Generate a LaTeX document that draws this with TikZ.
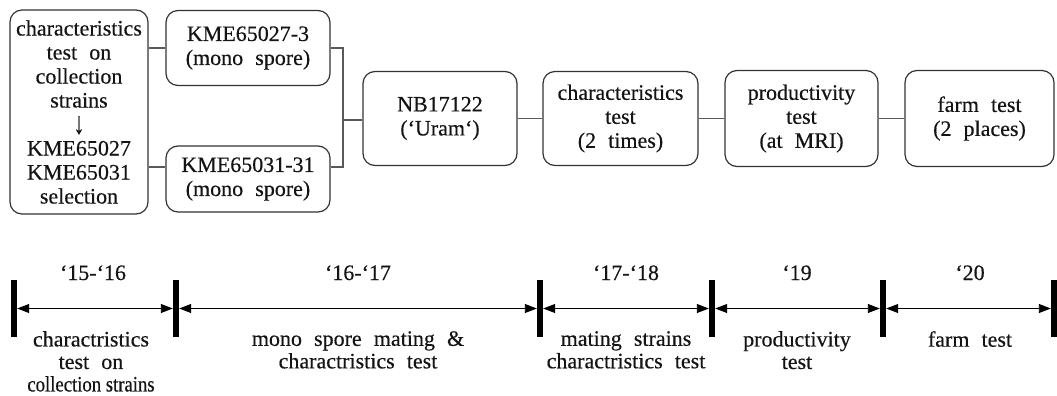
\documentclass[tikz,border=0pt]{standalone}
\usepackage{fontspec}
\setmainfont{Liberation Serif}[FakeBold=0.4,BoldFont=*]
\usepackage{graphicx}
\usetikzlibrary{arrows.meta}
\newcommand\myboxfont{\fontsize{22}{24}\selectfont\bfseries\spaceskip=0.55em plus 0.1em\relax}
\newcommand\mylabelfont{\fontsize{22}{22.5}\selectfont\bfseries\spaceskip=0.55em plus 0.1em\relax}
\newcommand\mycondensed[1]{{\spaceskip=0pt\relax\scalebox{0.85}[1]{#1}}}
\newcommand\mydownarrow{\raisebox{-2pt}[12pt][4pt]{\scalebox{1}[1.4]{↓}}}
\begin{document}
\begin{tikzpicture}[x=1pt,y=-1pt,
  txt/.style={font=\myboxfont, text=black!92, align=center, inner sep=0pt},
  lbl/.style={txt, font=\mylabelfont},
  box/.style={txt, draw=black!80, line width=1.2pt, rounded corners=12pt},
  link/.style={draw=black!65, line width=1.5pt},
  bar/.style={fill=black, minimum width=6pt, minimum height=57pt, inner sep=0pt},
  span/.style={line width=0.9pt, {Triangle[length=12pt,width=9pt]}-{Triangle[length=12pt,width=9pt]}},
]
\useasboundingbox (0,0) rectangle (1057,396);
% boxes
\node[box, minimum width=138pt, minimum height=204pt] (b1) at (79,112)
  {characteristics\\test on\\collection\\strains\\\mydownarrow\\KME65027\\KME65031\\selection};
\node[box, minimum width=164pt, minimum height=75pt] (b2) at (248,48)
  {KME65027-3\\(mono spore)};
\node[box, minimum width=164pt, minimum height=66pt] (b3) at (248,179)
  {KME65031-31\\(mono spore)};
\node[box, minimum width=154pt, minimum height=94pt] (b4) at (440,118.5)
  {NB17122\\(‘Uram‘)};
\node[box, minimum width=155pt, minimum height=94pt] (b5) at (620.5,118.5)
  {characteristics\\test\\(2 times)};
\node[box, minimum width=153pt, minimum height=96pt] (b6) at (801.5,118.5)
  {productivity\\test\\(at MRI)};
\node[box, minimum width=149pt, minimum height=96pt] (b7) at (979.5,118.5)
  {farm test\\(2 places)};
% connectors
\coordinate (j) at (343,120);
\draw[link] (b2.west) -- (b2.west -| b1.east);
\draw[link] ([yshift=12pt]b3.west) -- ([yshift=12pt]b3.west -| b1.east);
\draw[link] (b2.east) -| ([yshift=12pt]b3.east -| j) -- ([yshift=12pt]b3.east);
\draw[link] (j) -- (j -| b4.west);
\draw[link] (b4) -- (b5);
\draw[link] (b5) -- (b6);
\draw[link] (b6) -- (b7);
% timeline
\foreach \n/\x in {0/14,1/176,2/540,3/712,4/883,5/1054}
  \node[bar] (t\n) at (\x,308.5) {};
\draw[span] (t0.east) -- (t1.west);
\draw[span] (t1.east) -- (t2.west);
\draw[span] (t2.east) -- (t3.west);
\draw[span] (t3.east) -- (t4.west);
\draw[span] (t4.east) -- (t5.west);
% period labels
\node[lbl, anchor=base] (p0) at (93,280) {‘15-‘16};
\node[lbl, anchor=base] (p1) at (358,280) {‘16-‘17};
\node[lbl, anchor=base] (p2) at (626,280) {‘17-‘18};
\node[lbl, anchor=base] (p3) at (797,280) {‘19};
\node[lbl, anchor=base] (p4) at (970,280) {‘20};
% task labels
\node[lbl, anchor=north] (l0) at (91,331)
  {charactristics\\test on\\\mycondensed{collection strains}};
\node[lbl, anchor=north] (l1) at (358,331) {mono spore mating \&\\charactristics test};
\node[lbl, anchor=north] (l2) at (626,331) {mating strains\\charactristics test};
\node[lbl, anchor=north] (l3) at (797,331) {productivity\\test};
\node[lbl, anchor=north] (l4) at (970,331) {farm test};
\end{tikzpicture}
\end{document}
